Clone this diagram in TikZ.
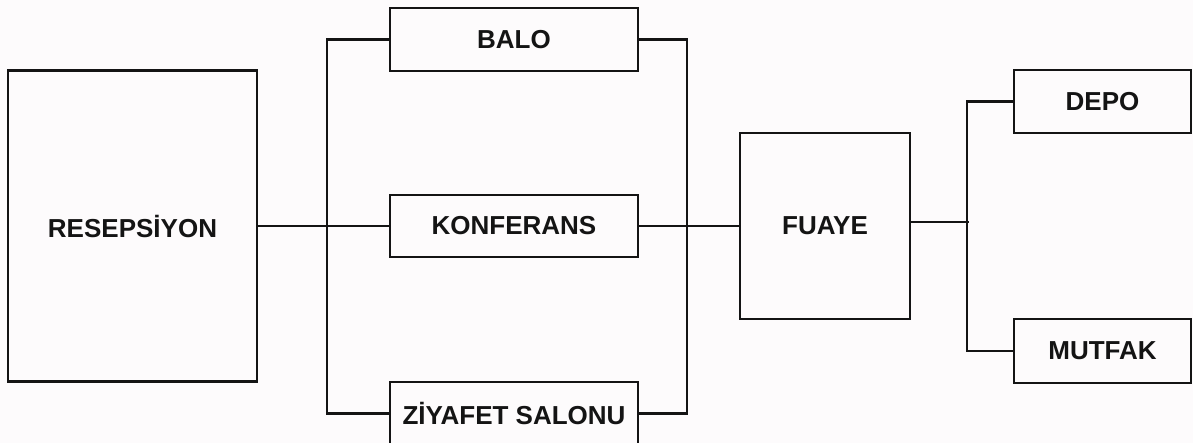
\documentclass[tikz,border=0pt]{standalone}
\usepackage{fontspec}
\setmainfont{Liberation Sans}
\definecolor{bgc}{RGB}{253,251,252}
\definecolor{ink}{RGB}{20,20,20}
\begin{document}
\begin{tikzpicture}[x=1pt,y=-1pt,
  room/.style={draw=ink,line width=2.3pt,rectangle,inner sep=0pt,
    font=\fontsize{26}{30}\selectfont\bfseries,text=ink},
  link/.style={draw=ink,line width=2.3pt}]
\useasboundingbox (0,0) rectangle (1193,443);
\clip (0,0) rectangle (1193,443);
\fill[bgc] (0,0) rectangle (1193,443);
\node[room,minimum width=249pt,minimum height=311pt] (res) at (132.5,226) {RESEPS\.{I}YON};
\node[room,minimum width=248pt,minimum height=63pt] (balo) at (514,39.5) {BALO};
\node[room,minimum width=248pt,minimum height=62pt] (konf) at (514,226) {KONFERANS};
\node[room,minimum width=248pt,minimum height=63pt] (ziy) at (514,413.5) {Z\.{I}YAFET SALONU};
\node[room,minimum width=170pt,minimum height=186pt] (fuaye) at (825,226) {FUAYE};
\node[room,minimum width=177pt,minimum height=63pt] (depo) at (1102.5,101.5) {DEPO};
\node[room,minimum width=177pt,minimum height=64pt] (mutfak) at (1102.5,351) {MUTFAK};
\draw[link] (res.east) -- (konf.west);
\draw[link] (balo.west) -- ++(-62,0) coordinate (lb) -- (lb |- ziy.west) -- (ziy.west);
\draw[link] (balo.east) -- ++(48,0) coordinate (rb) -- (rb |- ziy.east) -- (ziy.east);
\draw[link] (konf.east) -- (fuaye.west);
\draw[link] (fuaye.east) ++(0,-4) coordinate (fe) -- ++(58,0) coordinate (fb);
\draw[link] (depo.west) -- ++(-46,0) coordinate (db) -- (db |- mutfak.west) -- (mutfak.west);
\end{tikzpicture}
\end{document}
